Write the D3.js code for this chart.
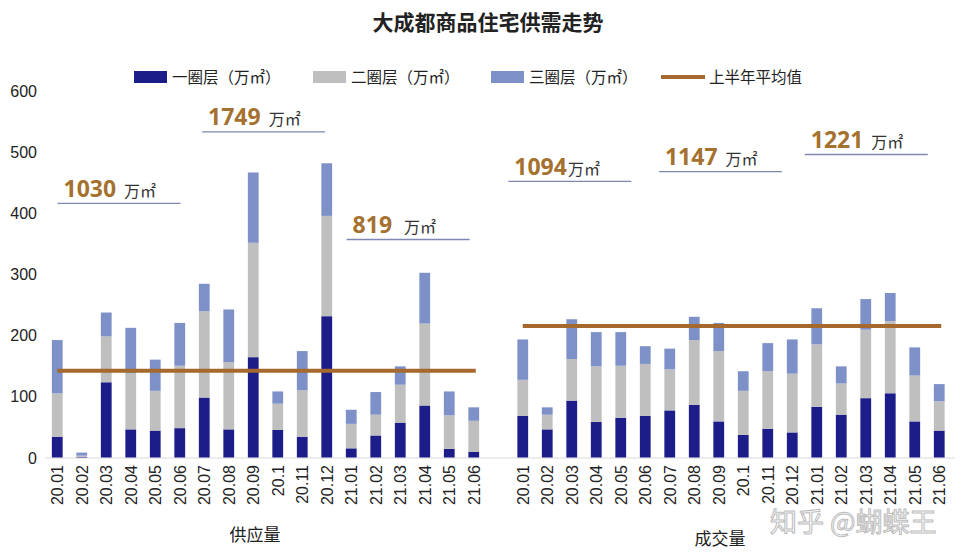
<!DOCTYPE html>
<html><head><meta charset="utf-8">
<script src="https://cdn.jsdelivr.net/npm/d3@7"></script>
<style>
body{margin:0;background:#fff;}
svg{display:block;}
text{font-family:"Liberation Sans",Arial,"Noto Sans CJK SC",sans-serif;}
.cjk{font-family:"Noto Sans CJK SC",sans-serif;}
</style></head>
<body>
<svg id="c" width="973" height="554"></svg>
<script>
const months = ["20.01","20.02","20.03","20.04","20.05","20.06","20.07","20.08","20.09","20.1","20.11","20.12","21.01","21.02","21.03","21.04","21.05","21.06"];
// 供应量
const supplyRing1 = [34, 1, 123, 46, 44, 48, 98, 46, 164, 45, 34, 231, 15, 36, 57, 85, 14, 9];
const supplyRing2 = [71, 2, 75, 92, 65, 102, 141, 110, 187, 43, 76, 164, 40, 34, 62, 134, 55, 51];
const supplyRing3 = [87, 5, 39, 74, 51, 70, 45, 86, 115, 20, 64, 86, 23, 37, 30, 83, 39, 22];
// 成交量
const dealRing1 = [68, 46, 93, 58, 65, 68, 77, 86, 59, 37, 47, 41, 83, 70, 97, 105, 59, 44];
const dealRing2 = [59, 24, 68, 91, 85, 85, 67, 106, 115, 72, 94, 96, 102, 51, 112, 118, 75, 48];
const dealRing3 = [66, 12, 65, 56, 55, 29, 34, 38, 46, 32, 46, 56, 59, 28, 50, 46, 46, 28];
const supplyAvg = 142;
const dealAvg = 215;
const yTicks = [0,100,200,300,400,500,600];
const seriesNames = ["一圈层（万㎡）","二圈层（万㎡）","三圈层（万㎡）","上半年平均值"];
const groupNames = ["供应量","成交量"];
const halfTotals = [
  {num:"1030", unit:"万㎡", group:0, at:2.5, v:426, gap:8},
  {num:"1749", unit:"万㎡", group:0, at:8.4, v:543, gap:8},
  {num:"819",  unit:"万㎡", group:0, at:14.3, v:367, gap:12},
  {num:"1094", unit:"万㎡", group:1, at:1.9, v:462, gap:1},
  {num:"1147", unit:"万㎡", group:1, at:8.05, v:478, gap:8},
  {num:"1221", unit:"万㎡", group:1, at:14.0, v:506, gap:8}
];
const colors = ["#1d1d8a","#bfbfbf","#7d91c8"];
const avgColor = "#a5692e";

const svg = d3.select("#c");
const keys = [...months.map((m,i)=>"S"+i), "GAP", ...months.map((m,i)=>"D"+i)];
const x = d3.scaleBand().domain(keys).range([45, 951.5]).paddingInner(0.56).paddingOuter(0.28);
const y = d3.scaleLinear().domain([0,600]).range([457.5, 90.5]);

// title
svg.append("text").attr("class","cjk").attr("x",488).attr("y",30).attr("text-anchor","middle")
  .attr("font-size",21).attr("font-weight","bold").attr("fill","#222").text("大成都商品住宅供需走势");

// y axis labels
svg.selectAll(".yt").data(yTicks).enter().append("text")
  .attr("x",37).attr("y",d=>y(d)+6).attr("text-anchor","end")
  .attr("font-size",16).attr("fill","#222").text(d=>d);

// baseline
svg.append("line").attr("x1",45).attr("x2",955).attr("y1",y(0)+0.5).attr("y2",y(0)+0.5)
  .attr("stroke","#d9d9d9").attr("stroke-width",1);

// stacked bars
function drawGroup(prefix, r1, r2, r3){
  const rows = months.map((m,i)=>({key:prefix+i, vals:[r1[i],r2[i],r3[i]]}));
  rows.forEach(r=>{
    let base=0;
    r.vals.forEach((v,j)=>{
      svg.append("rect").attr("x",x(r.key)).attr("width",x.bandwidth())
        .attr("y",y(base+v)).attr("height",y(base)-y(base+v)).attr("fill",colors[j]);
      base+=v;
    });
  });
}
drawGroup("S", supplyRing1, supplyRing2, supplyRing3);
drawGroup("D", dealRing1, dealRing2, dealRing3);

// average lines
function avgLine(prefix, v){
  svg.append("line").attr("x1",x(prefix+"0")+x.bandwidth()/2).attr("x2",x(prefix+"17")+x.bandwidth()/2+2)
    .attr("y1",y(v)).attr("y2",y(v)).attr("stroke",avgColor).attr("stroke-width",4);
}
avgLine("S", supplyAvg);
avgLine("D", dealAvg);

// x labels
keys.forEach((k)=>{
  if(k==="GAP") return;
  const i = +k.slice(1);
  const cx = x(k)+x.bandwidth()/2;
  svg.append("text").attr("transform",`translate(${cx+6},465) rotate(-90)`)
    .attr("text-anchor","end").attr("font-size",16).attr("fill","#222").text(months[i]);
});

// group labels
svg.append("text").attr("class","cjk").attr("x",255).attr("y",541).attr("text-anchor","middle")
  .attr("font-size",17).attr("fill","#222").text(groupNames[0]);
svg.append("text").attr("class","cjk").attr("x",720).attr("y",545).attr("text-anchor","middle")
  .attr("font-size",17).attr("fill","#222").text(groupNames[1]);

// half-year total annotations
halfTotals.forEach(a=>{
  const step = x.step();
  const prefix = a.group===0?"S":"D";
  const cx = x(prefix+"0") + x.bandwidth()/2 + a.at*step;
  const yy = y(a.v);
  svg.append("line").attr("x1",cx-61).attr("x2",cx+62).attr("y1",yy+6.5).attr("y2",yy+6.5)
    .attr("stroke","#7f87b2").attr("stroke-width",1.3);
  const t = svg.append("text").attr("x",cx-55).attr("y",yy).attr("fill","#a5712f");
  t.append("tspan").attr("font-family","'Open Sans',sans-serif").attr("font-weight","bold").attr("font-size",23).text(a.num);
  t.append("tspan").attr("dx",a.gap).attr("font-family","'Noto Sans CJK SC',serif").attr("font-size",16).attr("fill","#333").text(a.unit);
});

// legend
const lg = [{x:134,t:seriesNames[0],c:colors[0]},{x:313,t:seriesNames[1],c:colors[1]},{x:491,t:seriesNames[2],c:colors[2]}];
lg.forEach(l=>{
  svg.append("rect").attr("x",l.x).attr("y",71).attr("width",33).attr("height",12).attr("fill",l.c);
  svg.append("text").attr("class","cjk").attr("x",l.x+38).attr("y",83).attr("font-size",15.5).attr("fill","#222").text(l.t);
});
svg.append("line").attr("x1",661).attr("x2",705).attr("y1",77).attr("y2",77).attr("stroke",avgColor).attr("stroke-width",4);
svg.append("text").attr("class","cjk").attr("x",709).attr("y",83).attr("font-size",15.5).attr("fill","#222").text(seriesNames[3]);

// watermark text
svg.append("text").attr("class","cjk").attr("x",770).attr("y",532).attr("font-size",27)
  .attr("fill","#ffffff").attr("stroke","#b5b5b5").attr("stroke-width",1).attr("opacity",0.9).text("知乎 @蝴蝶王");
</script>
</body></html>
